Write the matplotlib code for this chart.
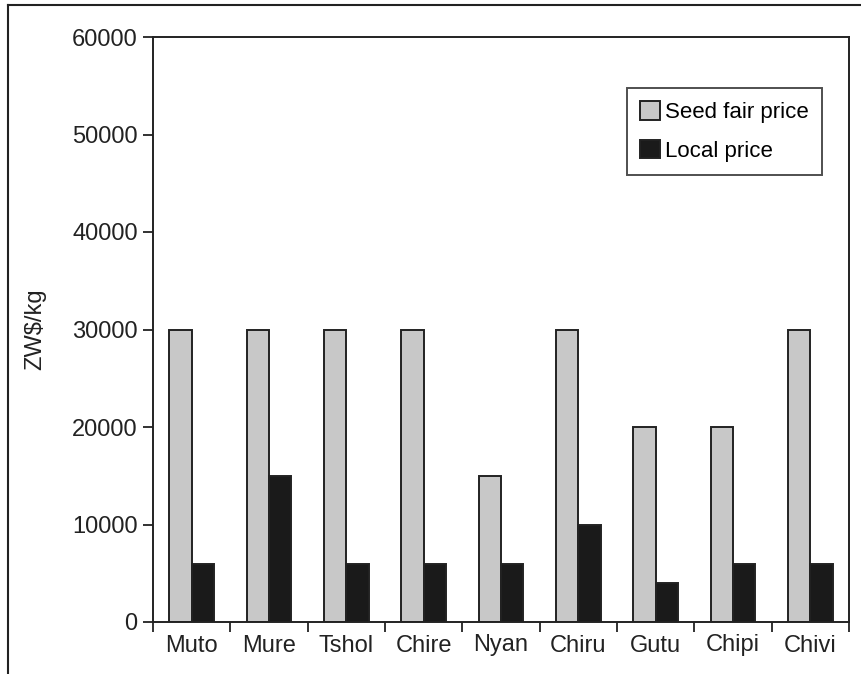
import matplotlib
matplotlib.use("Agg")
import matplotlib.pyplot as plt
import numpy as np
from matplotlib.lines import Line2D

plt.rcParams['font.family'] = ['Liberation Sans', 'DejaVu Sans']

#Data
sites = ["Muto", "Mure", "Tshol", "Chire", "Nyan", "Chiru", "Gutu", "Chipi", "Chivi"]
seed_fair_price = [30000, 30000, 30000, 30000, 15000, 30000, 20000, 20000, 30000]
local_price = [6000, 15000, 6000, 6000, 6000, 10000, 4000, 6000, 6000]
yticks = [0, 10000, 20000, 30000, 40000, 50000, 60000]

fig = plt.figure(figsize=(8.61, 6.74), dpi=100)
ax = fig.add_axes([153/861, 1 - 622/674, (849 - 153)/861, (622 - 37)/674])

x = np.arange(len(sites))
w = 0.29
ax.bar(x - w/2, seed_fair_price, w, color="#c8c8c8", edgecolor="#222222", linewidth=1.4, label="Seed fair price")
ax.bar(x + w/2, local_price, w, color="#1a1a1a", edgecolor="#222222", linewidth=1.4, label="Local price")

ax.set_xlim(-0.5, len(sites) - 0.5)
ax.set_ylim(0, 60000)
ax.set_yticks(yticks)
ax.set_yticklabels([str(t) for t in yticks], fontsize=17, color="#222222")

#Category labels centred, ticks at group boundaries
ax.set_xticks(x)
ax.set_xticklabels(sites, fontsize=17, color="#222222")
ax.tick_params(axis='x', which='major', length=0, pad=9)
ax.set_xticks(np.arange(-0.5, len(sites)), minor=True)
ax.tick_params(axis='x', which='minor', length=7, width=1.3, direction='out', color="#222222")
ax.tick_params(axis='y', length=7, width=1.3, direction='out', color="#222222", pad=4)

for s in ax.spines.values():
    s.set_linewidth(1.4)
    s.set_color("#222222")

ax.set_ylabel("ZW$/kg", fontsize=17, color="#222222")
ax.yaxis.set_label_coords(-0.154, 0.5)

leg = ax.legend(loc="upper left", bbox_to_anchor=((627 - 153)/696, 1 - (88 - 37)/585),
                fontsize=16, frameon=True, fancybox=False, handlelength=0.9, handleheight=0.9,
                handletextpad=0.2, borderpad=0.6, labelspacing=0.75, borderaxespad=0)
leg.get_frame().set_edgecolor("#222222")
leg.get_frame().set_linewidth(1.4)

#Outer frame (top and left edges of the cropped figure)
fig.add_artist(Line2D([8/861, 8/861], [0, 1 - 5/674], transform=fig.transFigure, color="#222222", lw=1.5))
fig.add_artist(Line2D([8/861, 1], [1 - 5/674, 1 - 5/674], transform=fig.transFigure, color="#222222", lw=1.5))

fig.savefig("out.png", dpi=100)
